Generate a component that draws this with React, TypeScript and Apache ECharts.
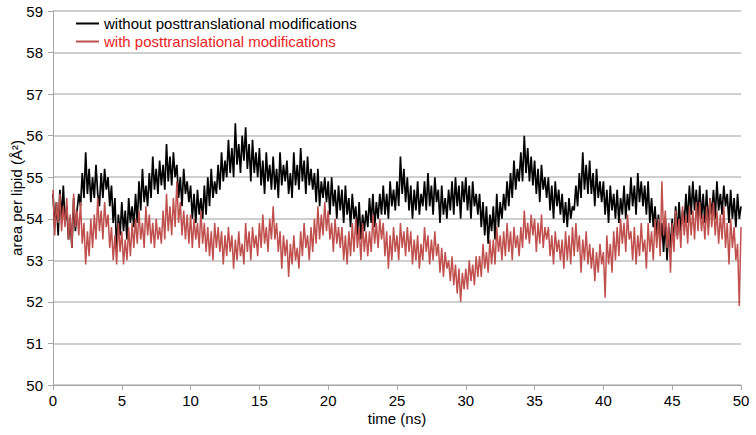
import React, { useEffect, useRef } from "react";
import * as echarts from "echarts";

const STEP_NS = 0.125;
const xTicks = [0, 5, 10, 15, 20, 25, 30, 35, 40, 45, 50];
const yTicks = [50, 51, 52, 53, 54, 55, 56, 57, 58, 59];
const seriesNames = ["without posttranslational modifications", "with posttranslational modifications"];

const withoutPTM = [
  54.6, 53.8, 54.4, 53.6, 54.7, 54.0, 54.8, 53.9,
  54.3, 53.5, 54.0, 53.3, 54.5, 53.7, 54.2, 54.6,
  54.3, 55.1, 54.5, 55.6, 54.6, 55.2, 54.4, 55.0,
  54.5, 55.3, 54.6, 54.3, 55.1, 54.5, 55.2, 54.7,
  55.0, 54.3, 54.8, 53.9, 54.5, 53.2, 54.1, 53.6,
  54.4, 53.7, 54.2, 53.5, 54.5, 53.9, 54.3, 53.8,
  54.6, 53.9, 54.9, 54.2, 55.2, 54.4, 54.8, 54.3,
  55.1, 54.5, 55.5, 54.7, 55.2, 54.6, 55.4, 54.8,
  55.3, 54.7, 55.8, 54.9, 55.5, 54.8, 55.6, 55.0,
  55.3, 54.5, 55.0, 54.3, 55.2, 54.6, 54.9, 54.4,
  54.8, 54.0, 54.6, 53.9, 54.7, 54.1, 54.5, 54.0,
  54.8, 54.1, 55.0, 54.3, 55.2, 54.5, 54.9, 54.6,
  55.3, 54.7, 55.6, 54.9, 55.4, 55.0, 55.9, 55.1,
  55.7, 55.0, 56.3, 55.3, 55.8, 55.1, 56.0, 55.4,
  56.2, 55.2, 55.8, 54.9, 55.9, 55.1, 55.6, 55.0,
  55.7, 54.8, 55.4, 54.6, 55.6, 54.9, 55.3, 54.7,
  55.5, 54.7, 55.2, 54.5, 55.6, 54.8, 55.3, 54.9,
  55.4, 54.6, 55.1, 54.5, 55.6, 54.8, 55.3, 54.7,
  55.7, 54.9, 55.4, 54.6, 55.5, 54.8, 55.2, 54.7,
  55.1, 54.4, 55.2, 54.3, 54.9, 54.5, 55.0, 54.4,
  54.9, 54.1, 55.0, 54.3, 54.7, 54.0, 54.8, 54.2,
  54.7, 53.9, 54.8, 54.1, 54.5, 53.8, 54.6, 54.0,
  54.3, 53.6, 54.4, 53.5, 54.1, 53.7, 54.2, 53.8,
  54.5, 53.9, 54.6, 53.8, 54.4, 54.0, 54.6, 54.1,
  54.8, 54.1, 54.6, 54.0, 54.9, 54.3, 54.7, 54.2,
  54.9, 54.3, 55.5, 54.6, 55.2, 54.4, 55.0, 54.2,
  54.8, 54.0, 54.7, 54.2, 54.9, 54.1, 54.6, 54.3,
  54.9, 54.2, 55.1, 54.3, 54.8, 54.1, 55.0, 54.4,
  54.7, 53.9, 54.8, 54.1, 54.5, 54.0, 54.7, 54.2,
  54.9, 54.1, 55.0, 54.3, 54.8, 54.0, 54.9, 54.4,
  55.0, 54.2, 54.8, 54.0, 54.9, 54.3, 54.6, 54.1,
  54.6, 53.8, 54.4, 53.6, 54.3, 53.4, 54.1, 53.7,
  54.3, 53.5, 54.6, 53.8, 54.4, 54.0, 54.6, 54.2,
  54.9, 54.3, 55.1, 54.5, 55.4, 54.7, 55.2, 54.9,
  55.6, 54.9, 56.0, 55.1, 55.7, 54.9, 55.5, 54.8,
  55.4, 54.6, 55.2, 54.4, 55.3, 54.7, 55.0, 54.5,
  55.0, 54.2, 54.8, 54.0, 54.9, 54.3, 54.7, 54.1,
  54.6, 53.9, 54.4, 53.8, 54.5, 54.0, 54.3, 54.2,
  54.8, 54.3, 55.1, 54.5, 55.6, 54.7, 55.3, 54.6,
  55.4, 54.6, 55.1, 54.3, 55.2, 54.5, 54.9, 54.4,
  54.9, 54.1, 54.7, 53.9, 54.8, 54.2, 54.6, 54.0,
  54.7, 53.9, 54.5, 54.1, 54.8, 54.0, 54.6, 54.2,
  55.0, 54.3, 54.8, 54.1, 55.1, 54.4, 54.9, 54.3,
  54.8, 54.1, 54.9, 53.9, 54.5, 53.8, 54.3, 53.6,
  54.1, 53.4, 53.9, 53.2, 54.0, 53.0, 53.8, 53.3,
  54.0, 53.4, 54.3, 53.6, 54.4, 53.7, 54.2, 53.9,
  54.6, 53.9, 54.8, 54.1, 54.9, 54.2, 54.7, 54.0,
  54.8, 54.0, 54.6, 53.9, 54.7, 53.8, 54.5, 54.1,
  54.7, 54.0, 54.9, 54.2, 54.6, 54.1, 54.8, 54.3,
  54.6, 53.9, 54.7, 54.0, 54.5, 53.8, 54.6, 54.0,
  54.3,
];

const withPTM = [
  54.7, 53.6, 54.4, 53.9, 54.6, 53.7, 54.3, 53.8,
  54.5, 53.5, 54.1, 53.3, 54.6, 53.8, 54.2, 53.6,
  54.4, 53.4, 53.9, 52.9, 53.7, 53.1, 54.0, 53.3,
  54.1, 53.5, 54.5, 53.7, 54.2, 53.5, 54.4, 53.8,
  54.1, 53.3, 53.8, 53.0, 53.6, 52.9, 53.9, 53.2,
  53.7, 52.9, 53.5, 53.0, 53.8, 53.1, 53.9, 53.3,
  54.0, 53.4, 54.2, 53.5, 53.9, 53.3, 54.3, 53.6,
  54.1, 53.4, 53.9, 53.3, 54.0, 53.5, 53.8, 53.4,
  54.2, 53.5, 54.6, 53.7, 54.3, 53.6, 54.5, 53.8,
  54.9, 53.9, 54.4, 53.6, 54.2, 53.5, 54.1, 53.4,
  54.1, 53.3, 54.0, 53.5, 53.9, 53.3, 54.2, 53.4,
  53.9, 53.2, 53.8, 53.1, 53.7, 53.0, 53.9, 53.3,
  53.8, 53.2, 53.7, 52.9, 53.6, 53.1, 53.8, 53.2,
  53.6, 52.8, 53.5, 53.0, 53.7, 53.1, 53.4, 52.9,
  53.9, 53.2, 53.7, 53.0, 53.8, 53.3, 53.6, 53.1,
  53.9, 53.3, 54.1, 53.4, 53.8, 53.2, 54.0, 53.5,
  54.3, 53.5, 53.9, 53.2, 53.7, 52.8, 53.6, 53.1,
  53.5, 52.6, 53.4, 52.9, 53.6, 53.0, 53.3, 52.8,
  53.7, 53.1, 53.9, 53.3, 53.6, 53.0, 53.8, 53.2,
  54.0, 53.4, 54.3, 53.5, 54.1, 53.6, 54.4, 53.7,
  54.2, 53.5, 53.9, 53.2, 54.0, 53.4, 53.8, 53.3,
  53.8, 53.0, 53.6, 52.9, 53.7, 53.1, 53.9, 53.2,
  54.0, 53.3, 53.8, 53.0, 53.9, 53.2, 53.7, 53.1,
  53.7, 53.2, 54.1, 53.4, 53.9, 53.3, 54.0, 53.5,
  53.9, 53.1, 53.7, 52.8, 53.6, 53.0, 53.8, 53.2,
  53.6, 53.0, 53.9, 53.3, 53.7, 53.1, 53.8, 53.2,
  53.7, 52.9, 53.5, 53.0, 53.6, 52.8, 53.4, 53.0,
  53.8, 53.2, 53.6, 52.9, 53.5, 53.0, 53.7, 53.1,
  53.4, 52.7, 53.3, 52.6, 53.2, 52.8, 53.0, 52.5,
  53.1, 52.4, 52.9, 52.2, 52.8, 52.0, 52.7, 52.3,
  52.8, 52.3, 53.0, 52.5, 52.9, 52.4, 53.1, 52.6,
  53.1, 52.6, 53.4, 52.8, 53.2, 52.7, 53.5, 52.9,
  53.5, 52.9, 53.8, 53.2, 53.6, 53.0, 53.7, 53.1,
  53.9, 53.2, 53.7, 53.0, 53.8, 53.3, 53.6, 53.1,
  53.8, 53.3, 54.2, 53.5, 53.9, 53.4, 54.1, 53.6,
  54.0, 53.2, 53.9, 53.4, 54.1, 53.3, 53.8, 53.5,
  53.8, 53.1, 53.6, 52.9, 53.7, 53.2, 53.5, 53.0,
  53.5, 52.8, 53.7, 53.0, 53.6, 52.9, 53.8, 53.1,
  53.9, 53.2, 53.6, 52.7, 53.5, 53.0, 53.7, 52.9,
  53.4, 52.8, 53.3, 52.5, 53.2, 52.7, 53.4, 52.9,
  53.2, 52.1, 53.6, 52.9, 53.4, 52.7, 53.7, 53.0,
  53.8, 53.1, 54.0, 53.4, 53.9, 53.2, 54.1, 53.5,
  53.7, 53.0, 53.8, 52.9, 53.6, 53.1, 53.9, 53.2,
  53.5, 52.8, 53.9, 53.2, 53.7, 53.0, 54.0, 53.3,
  54.0, 53.1, 54.9, 53.6, 54.2, 53.3, 53.9, 52.7,
  53.9, 53.2, 54.2, 53.5, 54.0, 53.3, 54.3, 53.6,
  54.1, 53.4, 54.3, 53.6, 54.2, 53.5, 54.4, 53.7,
  54.4, 53.7, 54.1, 53.5, 54.3, 53.6, 54.5, 53.8,
  54.4, 53.6, 54.2, 53.4, 54.1, 53.5, 54.3, 53.3,
  53.9, 52.9, 54.0, 53.3, 53.8, 53.0, 53.4, 51.9,
  53.8,
];

const toPairs = (vals: number[]) => vals.map((v, i) => [i * STEP_NS, v]);

export default function App() {
  const ref = useRef<HTMLDivElement>(null);
  useEffect(() => {
    if (!ref.current) return;
    const chart = echarts.init(ref.current, null, { renderer: "svg" });
    const font = "Liberation Sans, Arial, sans-serif";
    chart.setOption({
      animation: false,
      backgroundColor: "#ffffff",
      textStyle: { fontFamily: font },
      grid: { left: 53, right: 15, top: 11, bottom: 50, outerBoundsMode: "none", containLabel: false },
      legend: {
        orient: "vertical",
        left: 71,
        top: 11,
        itemGap: 3,
        itemWidth: 23,
        itemHeight: 2,
        icon: "rect",
        textStyle: { fontFamily: font, fontSize: 15, color: "#000" },
        data: [
          { name: seriesNames[0], textStyle: { color: "#000000" } },
          { name: seriesNames[1], textStyle: { color: "#e8231f" } },
        ],
      },
      xAxis: {
        type: "value",
        min: xTicks[0],
        max: xTicks[xTicks.length - 1],
        interval: 5,
        name: "time (ns)",
        nameLocation: "middle",
        nameGap: 26,
        nameMoveOverlap: false,
        nameTextStyle: { fontFamily: font, fontSize: 15, color: "#000" },
        axisLine: { lineStyle: { color: "#a6a6a6" } },
        axisTick: { show: true, length: 5, lineStyle: { color: "#a6a6a6" } },
        axisLabel: { fontFamily: font, fontSize: 15, color: "#000", margin: 8 },
        splitLine: { show: false },
      },
      yAxis: {
        type: "value",
        min: yTicks[0],
        max: yTicks[yTicks.length - 1],
        interval: 1,
        name: "area per lipid (Å²)",
        nameLocation: "middle",
        nameGap: 29,
        nameMoveOverlap: false,
        nameTextStyle: { fontFamily: font, fontSize: 15, color: "#000" },
        axisLine: { show: true, lineStyle: { color: "#a6a6a6" } },
        axisTick: { show: true, length: 5, lineStyle: { color: "#a6a6a6" } },
        axisLabel: { fontFamily: font, fontSize: 15, color: "#000", margin: 10 },
        splitLine: { show: true, lineStyle: { color: "#bfbfbf", width: 1.5 } },
      },
      series: [
        {
          name: seriesNames[0],
          type: "line",
          data: toPairs(withoutPTM),
          showSymbol: false,
          symbol: "none",
          color: "#000000",
          lineStyle: { color: "#000000", width: 1.7 },
          z: 2,
        },
        {
          name: seriesNames[1],
          type: "line",
          data: toPairs(withPTM),
          showSymbol: false,
          symbol: "none",
          color: "#c0504d",
          lineStyle: { color: "#c0504d", width: 1.5 },
          z: 3,
        },
      ],
    });
    return () => chart.dispose();
  }, []);
  return (
    <div
      ref={ref}
      style={{ position: "absolute", left: 0, top: 0, width: 756, height: 435 }}
    />
  );
}
